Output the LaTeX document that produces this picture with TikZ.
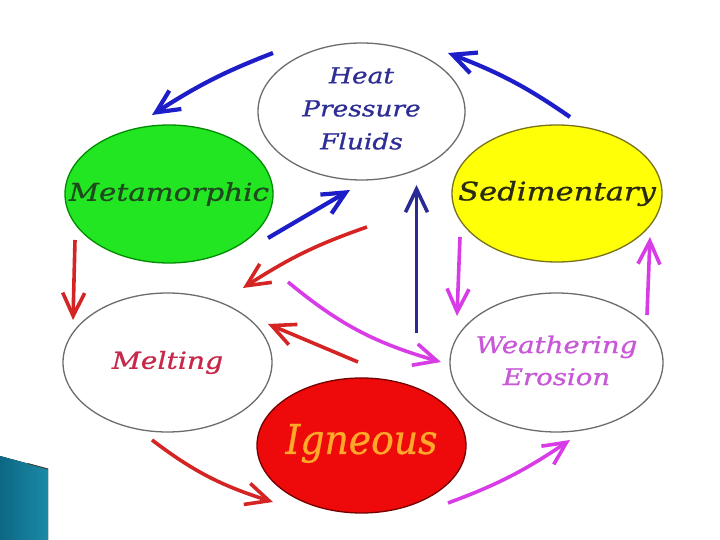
\documentclass[tikz,border=0pt]{standalone}
\usepackage{fontspec}
\newfontfamily\rockfont[FakeStretch=1.2,FakeBold=0.9]{DejaVu Serif}
\newfontfamily\ignfont[FakeStretch=0.92,FakeBold=0.6]{DejaVu Serif}
\usetikzlibrary{arrows.meta,shapes.geometric,bending}
\definecolor{arrblue}{HTML}{1E1EC8}
\definecolor{arrnavy}{HTML}{2A2A96}
\definecolor{arrred}{HTML}{D42424}
\definecolor{arrmag}{HTML}{D83CE6}
\definecolor{txtblue}{HTML}{2E2E96}
\definecolor{txtgreen}{HTML}{1E4A1E}
\definecolor{txtsed}{HTML}{2A2A10}
\definecolor{txtmelt}{HTML}{C8284A}
\definecolor{txtweath}{HTML}{C858D8}
\definecolor{txtign}{HTML}{FFA82A}
\definecolor{fillgreen}{HTML}{22E622}
\definecolor{fillyellow}{HTML}{FFFF08}
\definecolor{fillred}{HTML}{EE0A0A}
\definecolor{slidetealA}{HTML}{0C6884}
\definecolor{slidetealB}{HTML}{1B8AA6}
\begin{document}
\begin{tikzpicture}[x=1pt,y=1pt,
  rock/.style={ellipse, inner sep=0pt, line width=1.3pt},
  blank/.style={rock, draw=gray!85!black, fill=white},
  rocktext/.style={inner sep=0pt, align=center},
  cyc/.style={line width=3.6pt, -{Straight Barb[length=23pt,width=22pt]}},
  cycblue/.style={cyc, line width=4.2pt, draw=arrblue},
  cycred/.style={cyc, draw=arrred},
  cycmag/.style={cyc, draw=arrmag}]
\fill[white] (0,0) rectangle (720,540);
\useasboundingbox (0,0) rectangle (720,540);

% ellipses
\node[blank, minimum width=207pt, minimum height=137pt] (heat) at (361.5,428.5) {};
\node[rock, draw=green!55!black, fill=fillgreen, minimum width=208pt, minimum height=138pt] (meta) at (169,346) {};
\node[rock, draw=olive!80!black, fill=fillyellow, minimum width=210pt, minimum height=137pt] (sed) at (557,346.5) {};
\node[blank, minimum width=209pt, minimum height=139pt] (melt) at (167.5,177.5) {};
\node[blank, minimum width=213pt, minimum height=139pt] (weath) at (556.5,177.5) {};
\node[rock, draw=red!45!black, fill=fillred, minimum width=209pt, minimum height=135pt] (ign) at (361.5,94.5) {};

% texts
\node[rocktext, text=txtblue, font=\rockfont\itshape\fontsize{22}{33}\selectfont] (heatlbl) at ([yshift=3pt]heat.center) {Heat\\Pressure\\Fluids};
\node[rocktext, text=txtgreen, font=\rockfont\itshape\fontsize{24.5}{30}\selectfont] (metalbl) at (meta.center) {Metamorphic};
\node[rocktext, text=txtsed, font=\rockfont\itshape\fontsize{25.5}{30}\selectfont] (sedlbl) at (sed.center) {Sedimentary};
\node[rocktext, text=txtmelt, font=\rockfont\itshape\fontsize{23.5}{30}\selectfont] (meltlbl) at (melt.center) {Melting};
\node[rocktext, text=txtweath, font=\rockfont\itshape\fontsize{23}{32}\selectfont] (weathlbl) at ([yshift=2pt]weath.center) {Weathering\\Erosion};
\node[rocktext, text=txtign, font=\ignfont\itshape\fontsize{41}{45}\selectfont] (ignlbl) at ([yshift=2pt]ign.center) {Igneous};

% arrow end points
\coordinate (a1s) at ([shift={(-88.5,58.5)}]heat.center);
\coordinate (a1e) at ([shift={(-17,79)}]meta.center);
\coordinate (a2s) at ([shift={(13,76.5)}]sed.center);
\coordinate (a2e) at ([shift={(86.5,58.5)}]heat.center);
\coordinate (a3s) at ([shift={(99,-44)}]meta.center);
\coordinate (a3e) at ([shift={(-11.5,-78.5)}]heat.center);
\coordinate (a4s) at ([shift={(55,112.5)}]ign.center);
\coordinate (a4e) at ([shift={(55,-73.5)}]heat.center);
\coordinate (a5s) at ([shift={(5.5,-115.5)}]heat.center);
\coordinate (a5e) at ([shift={(75.5,74.5)}]melt.center);
\coordinate (a6s) at ([shift={(-94,-46)}]meta.center);
\coordinate (a6e) at ([shift={(-94.5,42.5)}]melt.center);
\coordinate (a7s) at ([shift={(-3.5,83.5)}]ign.center);
\coordinate (a7e) at ([shift={(100.5,38.5)}]melt.center);
\coordinate (a8s) at ([shift={(-15.5,-77.5)}]melt.center);
\coordinate (a8e) at ([shift={(-88.5,-56.5)}]ign.center);
\coordinate (a9s) at ([shift={(120.5,80.5)}]melt.center);
\coordinate (a9e) at ([shift={(-115.5,0.5)}]weath.center);
\coordinate (a10s) at ([shift={(-97,-43.5)}]sed.center);
\coordinate (a10e) at ([shift={(-99.5,46.5)}]weath.center);
\coordinate (a11s) at ([shift={(90.5,47.5)}]weath.center);
\coordinate (a11e) at ([shift={(93,-43.5)}]sed.center);
\coordinate (a12s) at ([shift={(86.5,-57.5)}]ign.center);
\coordinate (a12e) at ([shift={(13.5,-77.5)}]weath.center);

% blue arrows
\draw[cycblue] (a1s) to[bend right=6] (a1e);
\draw[cycblue] (a2s) to[bend right=7] (a2e);
\draw[cycblue] (a3s) -- (a3e);
\draw[cyc, line width=3.6pt, draw=arrnavy] (a4s) -- (a4e);
% red arrows
\draw[cycred] (a5s) to[bend right=7] (a5e);
\draw[cycred] (a6s) -- (a6e);
\draw[cycred] (a7s) -- (a7e);
\draw[cycred] (a8s) to[bend right=10] (a8e);
% magenta arrows
\draw[cycmag] (a9s) to[bend right=12] (a9e);
\draw[cycmag] (a10s) -- (a10e);
\draw[cycmag] (a11s) -- (a11e);
\draw[cycmag] (a12s) to[bend right=7] (a12e);

% slide decoration
\fill[left color=slidetealA, right color=slidetealB] (0,84) -- (48,71) -- (48,0) -- (0,0) -- cycle;
\draw[black!75, line width=1pt] (28,76.4) -- (48,71);
\end{tikzpicture}
\end{document}
